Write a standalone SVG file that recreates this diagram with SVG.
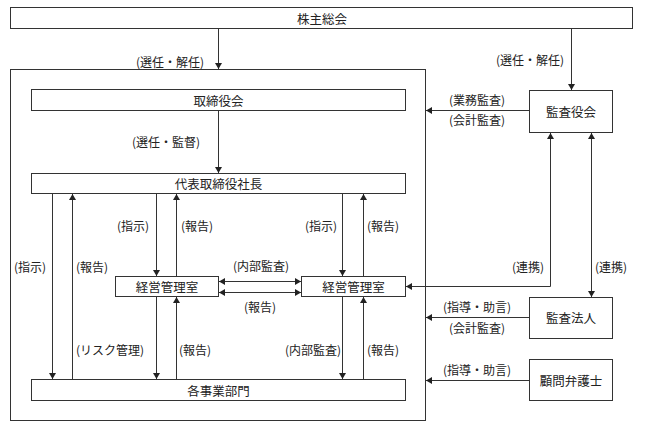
<svg xmlns="http://www.w3.org/2000/svg" width="648" height="440" viewBox="0 0 648 440">
<defs>
<marker id="ah" markerWidth="6" markerHeight="7" refX="6" refY="3.5" orient="auto-start-reverse" markerUnits="userSpaceOnUse">
<path d="M0,0 L6,3.5 L0,7 z" fill="#222"/>
</marker>
<style>
.box{fill:#fff;stroke:#333;stroke-width:1}
.frame{fill:none;stroke:#333;stroke-width:1}
.t{font-family:"Noto Sans CJK JP","Noto Sans CJK SC",sans-serif;font-size:12.5px;fill:#222;text-anchor:middle;dominant-baseline:central}
.l{font-family:"Noto Sans CJK JP","Noto Sans CJK SC",sans-serif;font-size:12px;fill:#222;text-anchor:middle;dominant-baseline:central}
.c{fill:none;stroke:#333;stroke-width:1}
.a{marker-end:url(#ah)}
.d{marker-start:url(#ah);marker-end:url(#ah)}
</style>
</defs>
<rect width="648" height="440" fill="#fff"/>
<rect class="frame" x="10.5" y="69.5" width="415" height="351"/>

<g id="kabunushi"><rect class="box" x="10.5" y="7.5" width="622" height="21"/><text class="t" x="322" y="18">株主総会</text></g>
<g id="torishimariyakukai"><rect class="box" x="31.5" y="89.5" width="374" height="21"/><text class="t" x="218.5" y="100">取締役会</text></g>
<g id="shacho"><rect class="box" x="31.5" y="173.5" width="374" height="20"/><text class="t" x="218.5" y="183.5">代表取締役社長</text></g>
<g id="keiei1"><rect class="box" x="115.5" y="276.5" width="103" height="20"/><text class="t" x="167" y="286.5">経営管理室</text></g>
<g id="keiei2"><rect class="box" x="301.5" y="276.5" width="104" height="20"/><text class="t" x="353.5" y="286.5">経営管理室</text></g>
<g id="jigyobumon"><rect class="box" x="31.5" y="379.5" width="374" height="21"/><text class="t" x="218.5" y="390">各事業部門</text></g>
<g id="kansayakukai"><rect class="box" x="529.5" y="90.5" width="83" height="42"/><text class="t" x="571" y="111">監査役会</text></g>
<g id="kansahojin"><rect class="box" x="529.5" y="297.5" width="83" height="41"/><text class="t" x="571" y="317.5">監査法人</text></g>
<g id="komon"><rect class="box" x="529.5" y="359.5" width="83" height="41"/><text class="t" x="571" y="380">顧問弁護士</text></g>

<g id="connectors">
<line class="c a" x1="218.5" y1="28.5" x2="218.5" y2="69"/>
<line class="c a" x1="571.5" y1="28.5" x2="571.5" y2="90"/>
<line class="c a" x1="218.5" y1="110.5" x2="218.5" y2="173"/>
<line class="c a" x1="529.5" y1="110.5" x2="426" y2="110.5"/>
<line class="c a" x1="529.5" y1="317.5" x2="426" y2="317.5"/>
<line class="c a" x1="529.5" y1="380.5" x2="426" y2="380.5"/>
<line class="c a" x1="52.5" y1="193.5" x2="52.5" y2="379"/>
<line class="c a" x1="72.5" y1="379.5" x2="72.5" y2="194"/>
<line class="c a" x1="156.5" y1="193.5" x2="156.5" y2="276"/>
<line class="c a" x1="176.5" y1="276.5" x2="176.5" y2="194"/>
<line class="c a" x1="342.5" y1="193.5" x2="342.5" y2="276"/>
<line class="c a" x1="363.5" y1="276.5" x2="363.5" y2="194"/>
<line class="c a" x1="156.5" y1="296.5" x2="156.5" y2="379"/>
<line class="c a" x1="176.5" y1="379.5" x2="176.5" y2="297"/>
<line class="c a" x1="342.5" y1="296.5" x2="342.5" y2="379"/>
<line class="c a" x1="363.5" y1="379.5" x2="363.5" y2="297"/>
<line class="c d" x1="219" y1="281.5" x2="301" y2="281.5"/>
<line class="c d" x1="219" y1="292.5" x2="301" y2="292.5"/>
<polyline class="c d" points="406,286.5 550.5,286.5 550.5,133"/>
<line class="c d" x1="591.5" y1="133" x2="591.5" y2="297"/>
</g>

<g id="labels">
<text class="l" x="170" y="61">(選任・解任)</text>
<text class="l" x="530" y="59">(選任・解任)</text>
<text class="l" x="166" y="141">(選任・監督)</text>
<text class="l" x="477" y="99">(業務監査)</text>
<text class="l" x="477" y="119">(会計監査)</text>
<text class="l" x="133" y="225">(指示)</text>
<text class="l" x="197" y="225">(報告)</text>
<text class="l" x="321" y="225">(指示)</text>
<text class="l" x="383" y="225">(報告)</text>
<text class="l" x="30" y="266">(指示)</text>
<text class="l" x="92" y="266">(報告)</text>
<text class="l" x="261" y="265">(内部監査)</text>
<text class="l" x="528" y="266">(連携)</text>
<text class="l" x="611" y="266">(連携)</text>
<text class="l" x="260" y="306">(報告)</text>
<text class="l" x="477" y="306">(指導・助言)</text>
<text class="l" x="477" y="327">(会計監査)</text>
<text class="l" x="110" y="349">(リスク管理)</text>
<text class="l" x="195" y="349">(報告)</text>
<text class="l" x="313" y="349">(内部監査)</text>
<text class="l" x="383" y="349">(報告)</text>
<text class="l" x="477" y="369">(指導・助言)</text>
</g>
</svg>
